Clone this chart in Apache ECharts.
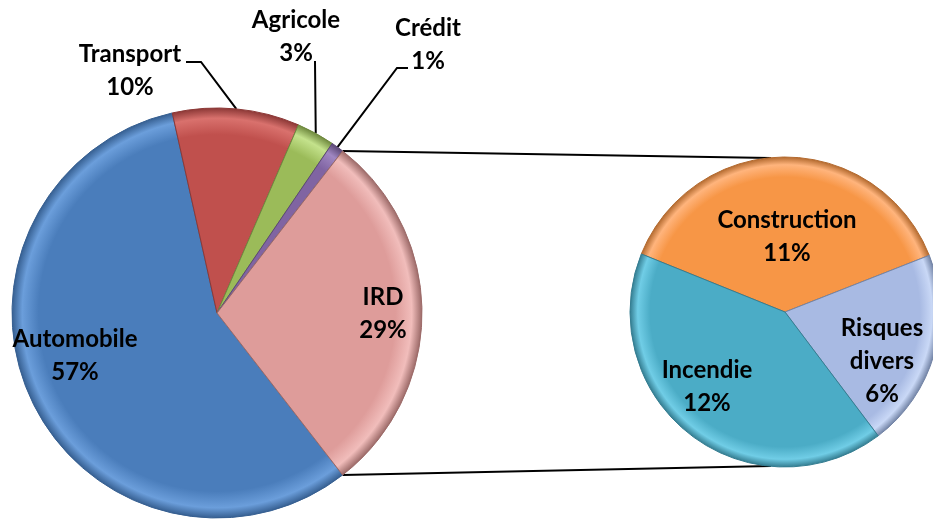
<!DOCTYPE html>
<html lang="fr">
<head>
<meta charset="UTF-8" />
<title>Répartition par branche</title>
<style>html, body { margin: 0; background: #fff; }</style>
</head>
<body>
<div id="main" style="width: 933px; height: 520px"></div>
<script src="https://cdn.jsdelivr.net/npm/echarts@6/dist/echarts.min.js"></script>
<script>
  // branches principales (en % du total)
  var branches = ['Automobile', 'Transport', 'Agricole', 'Crédit', 'IRD'];
  var partsBranches = [57, 10, 3, 1, 29];
  // détail de la branche IRD
  var detailIRD = ['Construction', 'Risques divers', 'Incendie'];
  var partsIRD = [11, 6, 12];

  // couleurs : base, reflet, bord
  var teintes = {
    'Automobile': ['#4a7dbb', '#6b9edb', '#365f91'],
    'Transport': ['#c0504d', '#d9716d', '#8c3836'],
    'Agricole': ['#9bbb59', '#c4e28c', '#6f893e'],
    'Crédit': ['#8064a2', '#a087c2', '#5b4775'],
    'IRD': ['#de9c9a', '#f1bdbb', '#9c6a68'],
    'Construction': ['#f79646', '#ffb47c', '#b36a2f'],
    'Risques divers': ['#a8bae3', '#c9d8f6', '#7384a6'],
    'Incendie': ['#4bacc6', '#70cde6', '#347d91']
  };

  // géométrie des deux camemberts
  var c1 = [217, 313], r1 = 205;
  var c2 = [785, 312], r2 = 155;

  var total = partsBranches.reduce(function (a, b) { return a + b; }, 0);
  var demiIRD = partsBranches[4] / total * 180; // IRD centré à droite
  var depart1 = 360 - demiIRD;
  var depart2 = 158;

  // position des étiquettes (centre du bloc de texte)
  var places = [
    { 'Automobile': [75, 356], 'Transport': [130, 71], 'Agricole': [296, 37], 'Crédit': [428, 45], 'IRD': [383, 314] },
    { 'Construction': [787, 237], 'Risques divers': [882, 361], 'Incendie': [707, 387] }
  ];
  // coudes des traits de rappel
  var rappels = {
    'Transport': [[201, 62], [186, 62]],
    'Agricole': [[315, 62], [315, 61]],
    'Crédit': [[397, 68], [408, 68]]
  };

  function relief(nom, c, r) {
    var t = teintes[nom];
    return {
      type: 'radial', x: c[0], y: c[1], r: r, global: true,
      colorStops: [
        { offset: 0, color: t[0] },
        { offset: 0.87, color: t[0] },
        { offset: 0.95, color: t[1] },
        { offset: 1, color: t[2] }
      ]
    };
  }

  function milieu(i) {
    var cum = 0;
    for (var k = 0; k < i; k++) cum += partsBranches[k];
    var a = (depart1 - (cum + partsBranches[i] / 2) / total * 360) * Math.PI / 180;
    return [c1[0] + r1 * Math.cos(a), c1[1] - r1 * Math.sin(a)];
  }

  var donnees1 = branches.map(function (nom, i) {
    var dehors = !!rappels[nom];
    return {
      name: nom,
      value: partsBranches[i],
      itemStyle: { color: relief(nom, c1, r1), borderColor: teintes[nom][2] },
      label: { position: dehors ? 'outside' : 'inside' },
      labelLine: { show: dehors }
    };
  });
  var donnees2 = detailIRD.map(function (nom, i) {
    return {
      name: nom,
      value: partsIRD[i],
      itemStyle: { color: relief(nom, c2, r2), borderColor: teintes[nom][2] }
    };
  });

  var etiquette = {
    show: true,
    color: '#000',
    fontFamily: 'Lato',
    fontWeight: 'bold',
    fontSize: 24,
    lineHeight: 33,
    align: 'center',
    formatter: function (p) { return p.name.replace(' ', '\n') + '\n' + p.value + '%'; }
  };

  var aRad = demiIRD * Math.PI / 180;
  var haut = [c1[0] + r1 * Math.cos(aRad), c1[1] - r1 * Math.sin(aRad)];
  var bas = [c1[0] + r1 * Math.cos(aRad), c1[1] + r1 * Math.sin(aRad)];

  var myChart = echarts.init(document.getElementById('main'));
  myChart.setOption({
    animation: false,
    series: [
      {
        type: 'pie',
        center: c1,
        radius: r1,
        startAngle: depart1,
        clockwise: true,
        avoidLabelOverlap: false,
        itemStyle: { borderWidth: 1 },
        label: etiquette,
        labelLine: { lineStyle: { color: '#000', width: 2 } },
        emphasis: { disabled: true },
        labelLayout: function (p) {
          var nom = branches[p.dataIndex];
          var pos = places[0][nom];
          var res = { x: pos[0], y: pos[1], align: 'center', verticalAlign: 'middle' };
          if (rappels[nom]) res.labelLinePoints = [milieu(p.dataIndex)].concat(rappels[nom]);
          return res;
        },
        data: donnees1
      },
      {
        type: 'pie',
        center: c2,
        radius: r2,
        startAngle: depart2,
        clockwise: true,
        avoidLabelOverlap: false,
        itemStyle: { borderWidth: 1 },
        label: Object.assign({}, etiquette, { position: 'inside' }),
        labelLine: { show: false },
        emphasis: { disabled: true },
        labelLayout: function (p) {
          var pos = places[1][detailIRD[p.dataIndex]];
          return { x: pos[0], y: pos[1], align: 'center', verticalAlign: 'middle' };
        },
        data: donnees2
      }
    ],
    graphic: [
      { type: 'line', shape: { x1: haut[0], y1: haut[1], x2: c2[0] - 14, y2: c2[1] - r2 + 1 }, style: { stroke: '#000', lineWidth: 1.8 } },
      { type: 'line', shape: { x1: bas[0], y1: bas[1], x2: c2[0] - 14, y2: c2[1] + r2 - 1 }, style: { stroke: '#000', lineWidth: 1.8 } }
    ]
  });
</script>
</body>
</html>
